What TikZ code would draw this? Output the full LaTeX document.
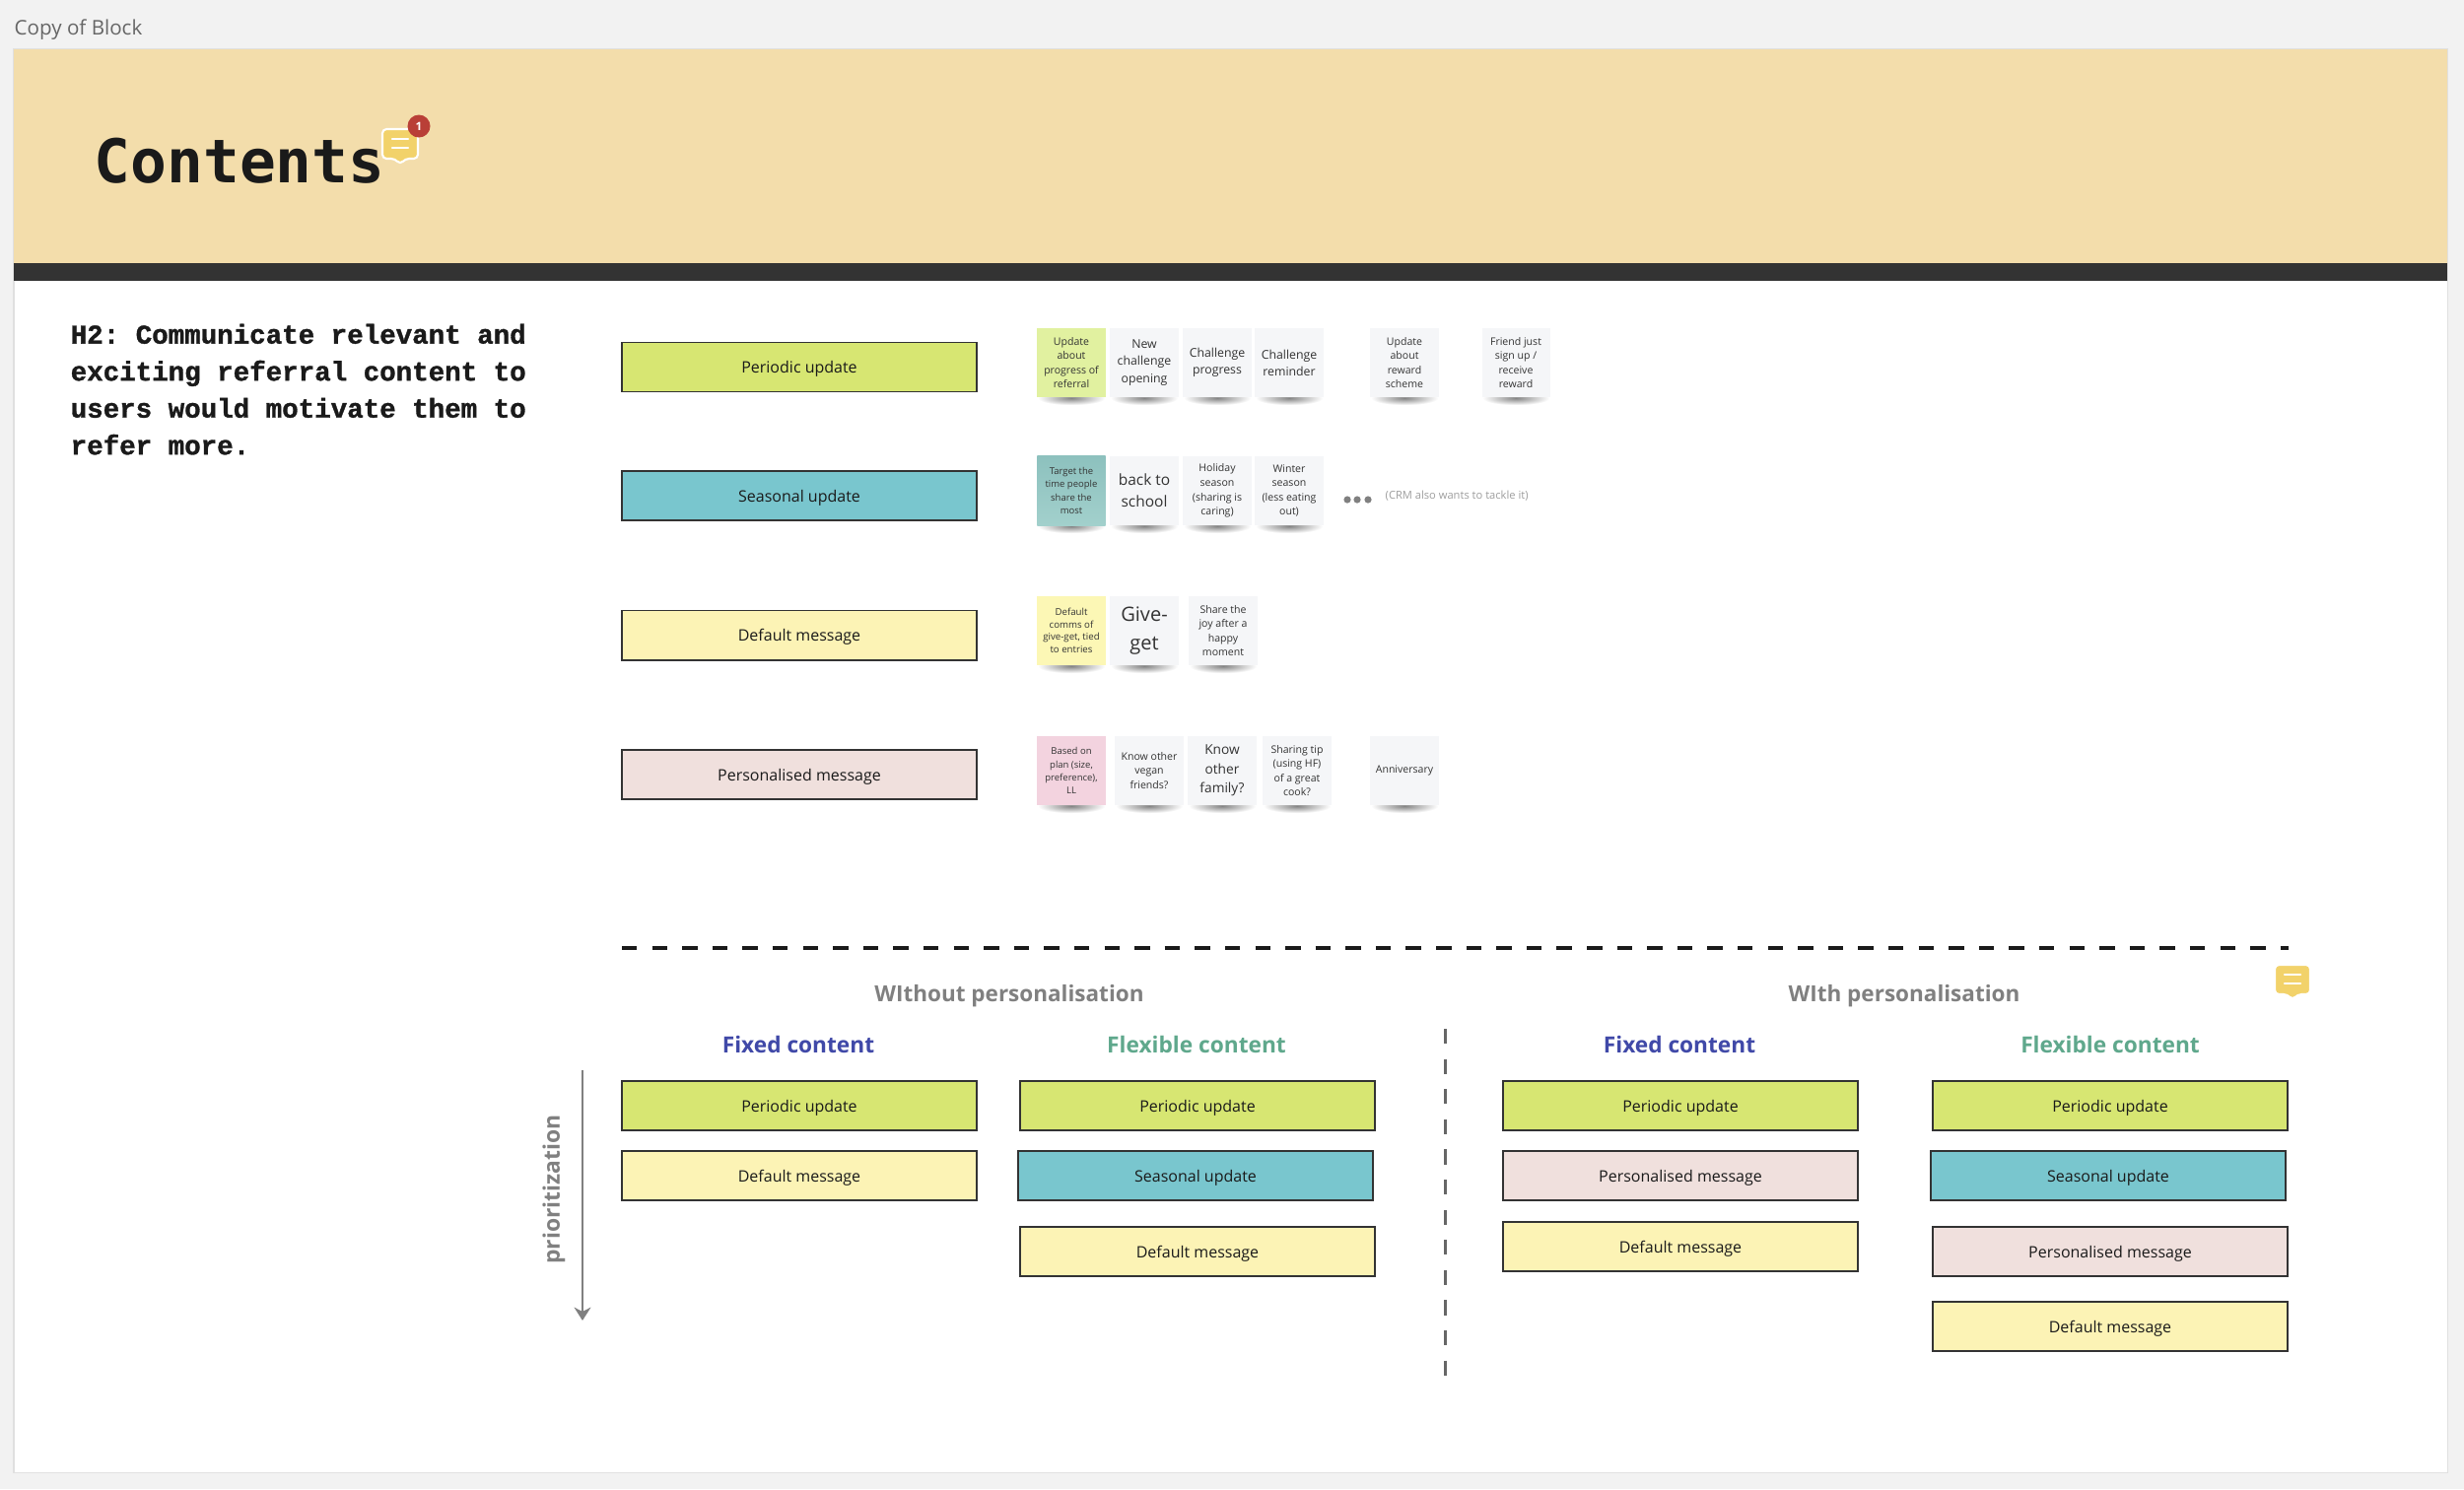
\documentclass[tikz,border=0pt]{standalone}
\usepackage{fontspec}
\setmainfont{Open Sans}
\setmonofont{Liberation Mono}[BoldFeatures={FakeBold=1.2}]
\newfontfamily\titlefam{DejaVu Sans Mono}
\usetikzlibrary{arrows.meta}
\definecolor{pagegray}{HTML}{F2F2F2}
\definecolor{bandtan}{HTML}{F3DDAB}
\definecolor{bardark}{HTML}{333333}
\definecolor{inkdark}{HTML}{1A1A1A}
\definecolor{midgray}{HTML}{808080}
\definecolor{boxgreen}{HTML}{D7E672}
\definecolor{boxteal}{HTML}{79C6CE}
\definecolor{boxyellow}{HTML}{FCF3B5}
\definecolor{boxpink}{HTML}{F0E0DD}
\definecolor{notegreen}{HTML}{E1F1A0}
\definecolor{tealtop}{HTML}{8DC1BE}
\definecolor{tealend}{HTML}{A2D0CC}
\definecolor{noteyellow}{HTML}{FCF7B5}
\definecolor{notepink}{HTML}{F3D3DF}
\definecolor{notewhite}{HTML}{F5F6F8}
\definecolor{fixedblue}{HTML}{4049A8}
\definecolor{flexgreen}{HTML}{5FA88C}
\definecolor{iconyellow}{HTML}{F2D26A}
\definecolor{badgered}{HTML}{B93F37}
\tikzset{
	box/.style={draw=bardark,line width=0.55pt,minimum width=3.60cm,minimum height=0.50cm,inner sep=0pt,outer sep=0pt,text=inkdark,text height=4.4pt,text depth=0.86pt,font=\fontsize{4.55}{6}\selectfont},
	periodic/.style={fill=boxgreen},
	seasonal/.style={fill=boxteal},
	defaultmsg/.style={fill=boxyellow},
	personal/.style={fill=boxpink},
	sticky/.style={minimum width=0.69cm,minimum height=0.70cm,inner sep=0pt,outer sep=0pt,align=center,text=bardark},
	nwhite/.style={fill=notewhite},
	ngreen/.style={fill=notegreen},
	nteal/.style={top color=tealtop,bottom color=tealend},
	nyellow/.style={fill=noteyellow},
	npink/.style={fill=notepink},
	fa/.style={font=\fontsize{3}{4.15}\selectfont},
	fb/.style={font=\fontsize{2.7}{3.75}\selectfont},
	fc/.style={font=\fontsize{2.75}{3.55}\selectfont},
	fd/.style={font=\fontsize{3.5}{4.9}\selectfont},
	fe/.style={font=\fontsize{3.9}{5.5}\selectfont},
	ff/.style={font=\fontsize{4.4}{6.3}\selectfont},
	fg/.style={font=\fontsize{5.7}{8.25}\selectfont},
	headgray/.style={text=midgray,font=\bfseries\fontsize{6.4}{8}\selectfont,inner sep=0pt},
	headfixed/.style={text=fixedblue,font=\bfseries\fontsize{6.45}{8}\selectfont,inner sep=0pt},
	headflex/.style={text=flexgreen,font=\bfseries\fontsize{6.45}{8}\selectfont,inner sep=0pt},
	commenticon/.pic={
		\draw[fill=iconyellow,draw=white,line width=0.6pt,rounded corners=1.2pt,line join=round] (-18,-15)--(18,-15)--(18,15)--(5,15)--(0,21)--(-5,15)--(-18,15)--cycle;
		\draw[white,line width=0.7pt,line cap=round] (-8,-5)--(8,-5) (-8,4)--(8,4);
	}
}

\begin{document}
\begin{tikzpicture}[>=Stealth,x=0.01cm,y=-0.01cm]
	\useasboundingbox (0,0) rectangle (2500,1511);
	\fill[pagegray] (0,0) rectangle (2500,1511);
	\draw[fill=white,draw=black!12,line width=0.3pt] (14,50) rectangle (2483,1494);
	\fill[bandtan] (14,50) rectangle (2483,267);
	\fill[bardark] (14,267) rectangle (2483,285);
	\node[anchor=west,inner sep=0pt,text=black!60,font=\fontsize{5.85}{8}\selectfont] (boardname) at (14,30) {Copy of Block};
	\node[anchor=base west,inner sep=0pt,text=inkdark,font=\titlefam\bfseries\fontsize{17.4}{20}\selectfont] (title) at (95,185) {Contents};
	\pic (titlecomment) at (406,146) {commenticon};
	\node[circle,fill=badgered,minimum size=0.23cm,inner sep=0pt,text=white,font=\bfseries\fontsize{3.3}{4}\selectfont] (badge) at (425,128) {1};
	\node[anchor=north west,inner sep=0pt,align=left,text=inkdark,font=\ttfamily\bfseries\fontsize{7.82}{10.67}\selectfont] (hypothesis) at (71,328) {H2: Communicate relevant and\\exciting referral content to\\users would motivate them to\\refer more.};

	\foreach \nm/\cx/\cy/\sty/\lab in {
		rowperiodic/811/372.5/periodic/{Periodic update},
		rowseasonal/811/503/seasonal/{Seasonal update},
		rowdefault/811/644.5/defaultmsg/{Default message},
		rowpersonal/811/786/personal/{Personalised message},
		waperiodic/811/1122/periodic/{Periodic update},
		wadefault/811/1193/defaultmsg/{Default message},
		wbperiodic/1215/1122/periodic/{Periodic update},
		wbseasonal/1213/1193/seasonal/{Seasonal update},
		wbdefault/1215/1270/defaultmsg/{Default message},
		paperiodic/1705/1122/periodic/{Periodic update},
		papersonal/1705/1193/personal/{Personalised message},
		padefault/1705/1265/defaultmsg/{Default message},
		pbperiodic/2141/1122/periodic/{Periodic update},
		pbseasonal/2139/1193/seasonal/{Seasonal update},
		pbpersonal/2141/1270/personal/{Personalised message},
		pbdefault/2141/1346/defaultmsg/{Default message}}{
		\node[box,\sty] (\nm) at (\cx,\cy) {\lab};
	}

	\foreach \nm/\cx/\cy/\sty/\fnt/\txt in {
		noteA/1087/368/ngreen/fa/{Update\\about\\progress of\\referral},
		noteB/1161/368/nwhite/fd/{New\\challenge\\opening},
		noteC/1235/368/nwhite/fd/{Challenge\\progress},
		noteD/1308/368/nwhite/fd/{Challenge\\reminder},
		noteE/1425/368/nwhite/fa/{Update\\about\\reward\\scheme},
		noteF/1538/368/nwhite/fa/{Friend just\\sign up /\\receive\\reward},
		noteG/1087/498/nteal/fb/{Target the\\time people\\share the\\most},
		noteH/1161/498/nwhite/ff/{back to\\school},
		noteI/1235/498/nwhite/fa/{Holiday\\season\\(sharing is\\caring)},
		noteJ/1308/498/nwhite/fa/{Winter\\season\\(less eating\\out)},
		noteK/1087/640/nyellow/fc/{Default\\comms of\\give-get,  tied\\to entries},
		noteL/1161/640/nwhite/fg/{Give-\\get},
		noteM/1241/640/nwhite/fa/{Share the\\joy after a\\happy\\moment},
		noteN/1087/782/npink/fb/{Based on\\plan (size,\\preference),\\LL},
		noteO/1166/782/nwhite/fa/{Know other\\vegan\\friends?},
		noteP/1240/782/nwhite/fe/{Know\\other\\family?},
		noteQ/1316/782/nwhite/fa/{Sharing tip\\(using HF)\\of a great\\cook?},
		noteR/1425/782/nwhite/fa/{Anniversary}}{
		\shade[inner color=black!48,outer color=white] (\cx-34,\cy+29) rectangle (\cx+34,\cy+43);
		\node[sticky,\sty,\fnt] (\nm) at (\cx,\cy) {\txt};
	}

	\foreach \n/\cx in {1/1367,2/1377,3/1388}{
		\fill[midgray] (\cx,507) circle (3.6);
	}
	\node[anchor=west,inner sep=0pt,text=black!38,font=\fontsize{3.17}{4}\selectfont] (crmnote) at (1405,503) {(CRM also wants to tackle it)};

	\coordinate (splitleft) at (631,962);
	\coordinate (splitright) at (2322,962);
	\draw[inkdark,line width=1.14pt,dash pattern=on 4.4pt off 4.3pt] (splitleft)--(splitright);
	\coordinate (midtop) at (1466,1044);
	\coordinate (midbottom) at (1466,1397);
	\draw[black!60,line width=0.85pt,dash pattern=on 4.3pt off 4.4pt] (midtop)--(midbottom);
	\coordinate (priotop) at (591,1086);
	\coordinate (prioend) at (591,1340);
	\draw[->,midgray,line width=0.7pt,>={Stealth[length=3.8pt,width=4.8pt]}] (priotop)--(prioend);
	\node[rotate=90,inner sep=0pt,text=midgray,font=\bfseries\fontsize{6.5}{8}\selectfont] (priolabel) at (562,1207) {prioritization};

	\node[headgray] (withouthead) at (1024,1010.5) {WIthout personalisation};
	\node[headgray] (withhead) at (1932,1010.5) {WIth personalisation};
	\node[headfixed] (fixedA) at (810,1059.5) {Fixed content};
	\node[headflex] (flexA) at (1214,1059.5) {Flexible content};
	\node[headfixed] (fixedB) at (1704,1059.5) {Fixed content};
	\node[headflex] (flexB) at (2141,1059.5) {Flexible content};
	\pic (bottomcomment) at (2326,994) {commenticon};
\end{tikzpicture}
\end{document}
